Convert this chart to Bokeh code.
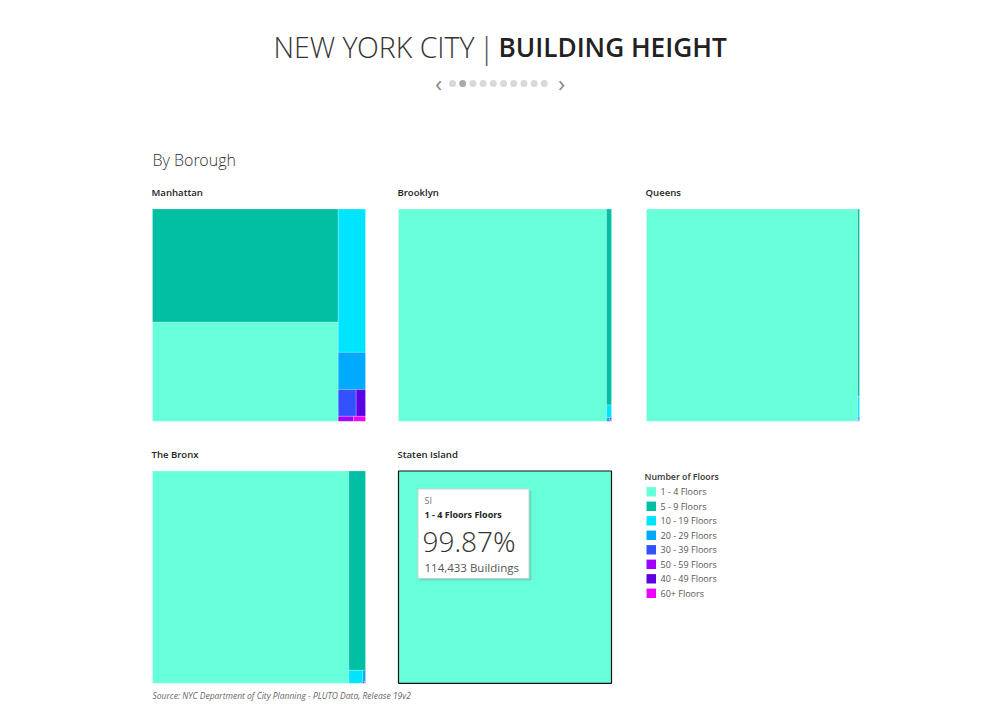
import numpy as np
from bokeh.plotting import figure
from bokeh.models import Range1d, ColumnDataSource
from bokeh.core.properties import value
from bokeh.embed import file_html
from bokeh.resources import INLINE

# ---------------- data ----------------
categories = ["1 - 4 Floors", "5 - 9 Floors", "10 - 19 Floors", "20 - 29 Floors",
              "30 - 39 Floors", "50 - 59 Floors", "40 - 49 Floors", "60+ Floors"]
colors = ["#66FFDA", "#00BFA2", "#00E5FF", "#00AAFF",
          "#3352FF", "#A100FF", "#5C00E6", "#EE00FF"]
boroughs = ["Manhattan", "Brooklyn", "Queens", "The Bronx", "Staten Island"]
# share of buildings (%) per category, same order as `categories`
manhattan = [40.7, 46.5, 8.65, 2.25, 1.06, 0.17, 0.55, 0.13]
brooklyn = [97.65, 2.17, 0.14, 0.025, 0.010, 0.002, 0.003, 0.001]
queens = [99.15, 0.75, 0.082, 0.012, 0.003, 0.001, 0.001, 0.001]
bronx = [92.16, 7.36, 0.40, 0.07, 0.008, 0.001, 0.002, 0.001]
staten_island = [99.87, 0.10, 0.025, 0.004, 0.001, 0.0, 0.0, 0.0]
shares = [manhattan, brooklyn, queens, bronx, staten_island]
si_buildings_1_4 = 114433

# ---------------- layout helpers ----------------
def worst(areas, short):
    t = sum(areas) / short
    return max(max(t / (a / t), (a / t) / t) for a in areas)

def squarify(vals, x, y, w, h, tol=2.0):
    idx = [int(i) for i in np.argsort(-np.array(vals), kind="stable") if vals[i] > 0]
    total = sum(vals[i] for i in idx)
    areas = {i: vals[i] / total * w * h for i in idx}
    out = {}
    while idx:
        vertical = w >= h
        short = h if vertical else w
        row = [idx[0]]
        k = 1
        while k < len(idx):
            cand = row + [idx[k]]
            if worst([areas[i] for i in cand], short) <= tol * worst([areas[i] for i in row], short):
                row = cand
                k += 1
            else:
                break
        t = sum(areas[i] for i in row) / short
        off = 0.0
        for i in row:
            L = areas[i] / t
            if vertical:
                out[i] = (x, y + off, x + t, y + off + L)
            else:
                out[i] = (x + off, y, x + off + L, y + t)
            off += L
        if vertical:
            x += t
            w -= t
        else:
            y += t
            h -= t
        idx = idx[k:]
    return out

# page-pixel coordinates (y down)
p = figure(width=984, height=711, x_range=Range1d(0, 984), y_range=Range1d(711, 0),
           output_backend="svg", toolbar_location=None, min_border=0)
p.axis.visible = False
p.grid.visible = False
p.outline_line_color = None
p.background_fill_color = "white"

FONT = value("Open Sans")
LIGHT = value("Open Sans Light")
SEMI = value("Open Sans SemiBold")

def txt(x, y, s, size, color="#333333", style="normal", align="left", font=FONT):
    p.text(x=[x], y=[y], text=[s], text_font=font, text_font_size=value(size),
           text_color=color, text_font_style=style, text_align=align, text_baseline="middle")

# title
txt(474, 46.5, "NEW YORK CITY", "28.5px", "#333333", align="right", font=LIGHT)
txt(486, 46.5, "|", "30px", "#555555", align="center", font=LIGHT)
txt(498, 46.5, "BUILDING HEIGHT", "26.2px", "#222222", align="left", font=SEMI)

# page navigation
n_dots = 10
dot_x = [452 + i * 10.2 for i in range(n_dots)]
dot_c = ["#aaaaaa" if i == 1 else "#d9d9d9" for i in range(n_dots)]
p.scatter(x=dot_x, y=[83] * n_dots, size=7, color=dot_c, line_color=None)
txt(438, 81.5, "‹", "24px", "#8a8a8a", align="center")
txt(561, 81.5, "›", "24px", "#8a8a8a", align="center")

txt(152, 159, "By Borough", "16px", "#333333", font=LIGHT)

# panels
px0 = [152, 398, 646, 152, 398]
py0 = [208.5, 208.5, 208.5, 470.5, 470.5]
PW, PH = 213.0, 212.3
title_y = [191.5, 191.5, 191.5, 453.5, 453.5]

L, R, T, B, C = [], [], [], [], []
for b, vals in enumerate(shares):
    rects = squarify(vals, px0[b], py0[b], PW, PH)
    for i, (x0, y0, x1, y1) in rects.items():
        L.append(x0); R.append(x1); T.append(y0); B.append(y1); C.append(colors[i])
    txt(px0[b] - 1, title_y[b], boroughs[b], "9.6px", "#222222", font=SEMI)

src = ColumnDataSource(dict(left=L, right=R, top=T, bottom=B, color=C))
p.quad(left="left", right="right", top="top", bottom="bottom", fill_color="color",
       line_color="white", line_alpha=0.35, line_width=0.6, source=src)

# highlighted panel (Staten Island)
p.quad(left=[px0[4]], right=[px0[4] + PW], top=[py0[4]], bottom=[py0[4] + PH],
       fill_color=None, line_color="#111111", line_width=1.2)

# tooltip
p.quad(left=[419], right=[531], top=[490], bottom=[580], fill_color="#000000",
       fill_alpha=0.12, line_color=None)
p.quad(left=[417.5], right=[528.5], top=[488.5], bottom=[578], fill_color="white",
       line_color="#cfcfcf", line_width=1)
txt(424, 500, "SI", "9px", "#777777")
txt(424, 513.5, categories[0] + " Floors", "9px", "#222222", style="bold")
txt(422, 540.5, f"{staten_island[0]:.2f}%", "28px", "#333333", font=LIGHT)
txt(424, 566.5, f"{si_buildings_1_4:,} Buildings", "11.5px", "#555555")

# legend
txt(644, 476.5, "Number of Floors", "8.8px", "#333333", font=SEMI)
lx0, lx1 = 646, 655.5
ly = [491.3 + i * 14.5 for i in range(len(categories))]
p.quad(left=[lx0] * len(ly), right=[lx1] * len(ly), top=[y - 4.7 for y in ly],
       bottom=[y + 4.7 for y in ly], fill_color=colors, line_color=None)
p.text(x=[660] * len(ly), y=ly, text=categories, text_font=FONT, text_font_size=value("9px"),
       text_color="#555555", text_baseline="middle", text_align="left")

txt(152, 694.5, "Source: NYC Department of City Planning - PLUTO Data, Release 19v2", "8.5px",
    "#666666", style="italic")

open("out.html", "w").write(file_html(p, INLINE))
